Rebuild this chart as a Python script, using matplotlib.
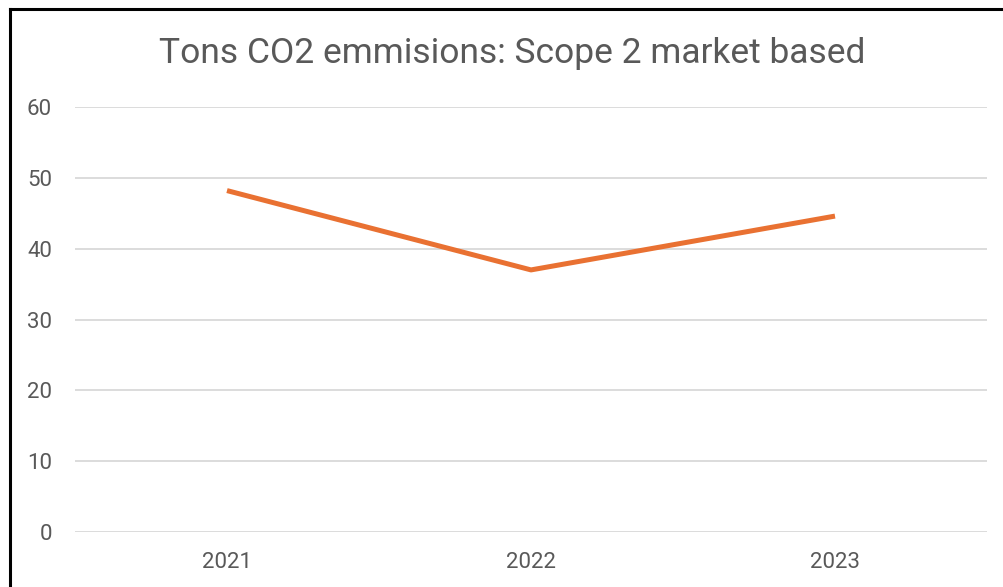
import matplotlib.pyplot as plt
from matplotlib.lines import Line2D

# chart data
years = ["2021", "2022", "2023"]
emissions = [48.2, 37.0, 44.6]
y_ticks = [0, 10, 20, 30, 40, 50, 60]

plt.rcParams['font.family'] = ['Roboto', 'DejaVu Sans']

W, H = 1004, 587
fig = plt.figure(figsize=(W / 100, H / 100), dpi=100)
fig.patch.set_facecolor("white")

# axes placed to match the plot area (pixels)
left, right, top, bottom = 75, 987, 107, 532
ax = fig.add_axes([left / W, 1 - bottom / H, (right - left) / W, (bottom - top) / H])

x = range(len(years))
ax.plot(x, emissions, color="#E97132", linewidth=3.6, solid_capstyle="butt", zorder=3)

ax.set_xlim(-0.5, len(years) - 0.5)
ax.set_ylim(0, 60)
ax.set_yticks(y_ticks)
ax.set_xticks(list(x))
ax.set_xticklabels(years)

ax.grid(axis="y", color="#D9D9D9", linewidth=1.3)
ax.set_axisbelow(True)
for s in ax.spines.values():
    s.set_visible(False)
ax.tick_params(axis="both", length=0, colors="#595959", labelsize=16)
ax.tick_params(axis="y", pad=16.5)
ax.tick_params(axis="x", pad=14.5)

fig.text(512 / W, 1 - 63 / H, "Tons CO2 emmisions: Scope 2 market based",
         ha="center", va="baseline", fontsize=25.5, color="#595959")

# chart border (cut off at right and bottom)
fig.add_artist(Line2D([9.5 / W, 9.5 / W], [0, 1 - 8.5 / H], color="black", linewidth=2.2,
                      transform=fig.transFigure))
fig.add_artist(Line2D([9.5 / W, 1], [1 - 8.5 / H, 1 - 8.5 / H], color="black", linewidth=2.2,
                      transform=fig.transFigure))

fig.savefig("out.png", dpi=100)
